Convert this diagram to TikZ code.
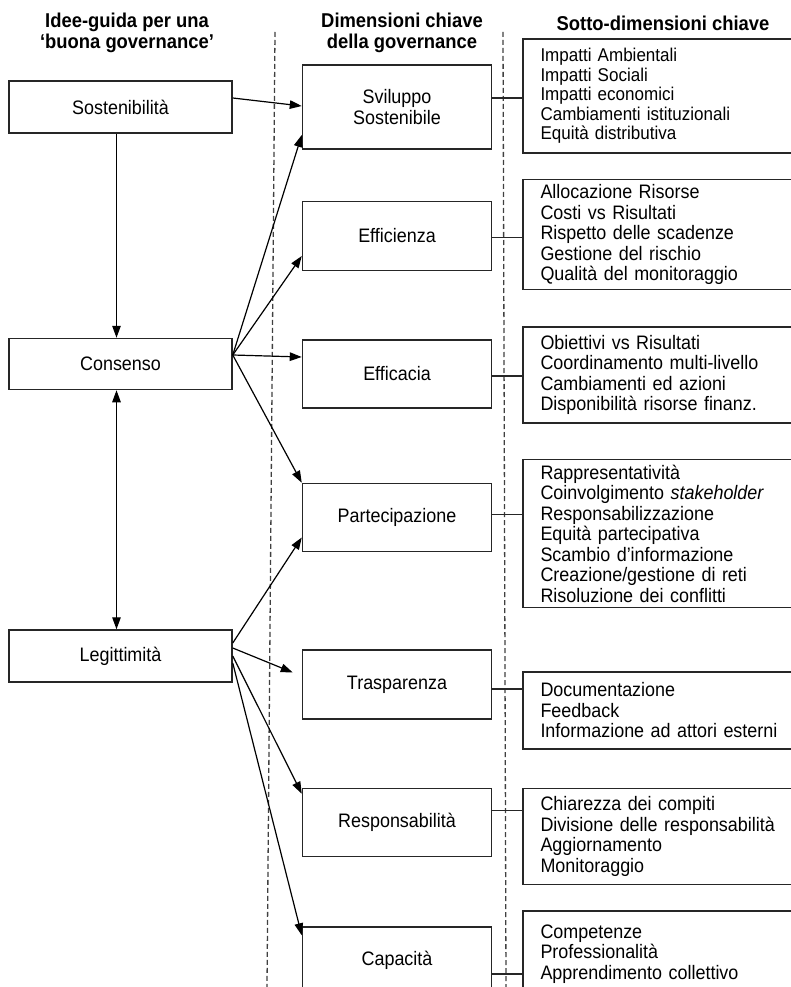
\documentclass[tikz,border=0pt]{standalone}
\usepackage{fontspec}
\setmainfont[FakeStretch=0.92]{Liberation Sans}
\usetikzlibrary{arrows.meta,positioning}

\begin{document}
\begin{tikzpicture}[x = 1pt, y = -1pt]
  \useasboundingbox (0,0) rectangle (790,987);
  \tikzset{GovTip/.tip = {Triangle[length = 12pt, width = 8.5pt]}}
  \tikzset{IdeaStyle/.style = {draw           = black!85,
                               line width     = 1.5pt,
                               minimum width  = 223pt,
                               minimum height = 52pt,
                               inner sep      = 0pt,
                               align          = center,
                               font           = \fontsize{19.5}{20.5}\selectfont}}
  \tikzset{DimStyle/.style  = {IdeaStyle,
                               minimum width  = 189pt}}
  \tikzset{SubStyle/.style  = {draw           = black!85,
                               line width     = 1.5pt,
                               text width     = 252pt,
                               inner xsep     = 17.5pt,
                               inner ysep     = 0pt,
                               align          = left,
                               font           = \fontsize{19.5}{20.5}\selectfont}}
  \tikzset{HeadStyle/.style = {align          = center,
                               font           = \bfseries\fontsize{20}{21}\selectfont}}
  \tikzset{EdgeStyle/.style = {line width     = 1.2pt,
                               -GovTip}}
  \tikzset{LinkStyle/.style = {line width     = 1.5pt,
                               draw           = black!85}}
  \tikzset{SplitStyle/.style = {line width    = 1.3pt,
                                draw          = black!75,
                                dash pattern  = on 5pt off 3pt}}
     \node[HeadStyle](HeadIdea) at (127,33) {Idee-guida per una\\‘buona governance’};
     \node[HeadStyle](HeadDim)  at (402,33) {Dimensioni chiave\\della governance};
     \node[HeadStyle](HeadSub)  at (663,23) {Sotto-dimensioni chiave};

     \draw[SplitStyle] (275,32) -- (267,987);
     \draw[SplitStyle] (503,32) -- (506,987);

     \node[IdeaStyle](Sost) at (120.5,107) {Sostenibilità};
     \node[IdeaStyle,minimum height = 51pt,below= 204pt of Sost](Cons){Consenso};
     \node[IdeaStyle,below= 239pt of Cons](Legit){Legittimità};

     \node[DimStyle,minimum height = 84pt,right= 69pt of Sost](SvS){Sviluppo\\Sostenibile};
     \node[DimStyle,minimum height = 69pt,below= 51pt of SvS](Effz){Efficienza};
     \node[DimStyle,minimum height = 68pt,below= 68pt of Effz](Effc){Efficacia};
     \node[DimStyle,minimum height = 68pt,below= 74pt of Effc](Part){Partecipazione};
     \node[DimStyle,minimum height = 69pt,below= 97pt of Part](Trasp){Trasparenza};
     \node[DimStyle,minimum height = 68pt,below= 68pt of Trasp](Resp){Responsabilità};
     \node[DimStyle,minimum height = 67pt,below= 69pt of Resp](Cap){Capacità};

     \node[SubStyle,minimum height = 114pt,right= 30pt of SvS,yshift = 11pt,
           font = \fontsize{18.5}{19.5}\selectfont](SubSvS)
          {Impatti Ambientali\\Impatti Sociali\\Impatti economici\\Cambiamenti istituzionali\\Equità distributiva};
     \node[SubStyle,minimum height = 110pt,right= 30pt of Effz,yshift = 1.5pt](SubEffz)
          {Allocazione Risorse\\Costi vs Risultati\\Rispetto delle scadenze\\Gestione del rischio\\Qualità del monitoraggio};
     \node[SubStyle,minimum height = 96pt,right= 30pt of Effc,yshift = -1pt](SubEffc)
          {Obiettivi vs Risultati\\Coordinamento multi-livello\\Cambiamenti ed azioni\\Disponibilità risorse finanz.};
     \node[SubStyle,minimum height = 148pt,right= 30pt of Part,yshift = -16pt](SubPart)
          {Rappresentatività\\Coinvolgimento \textit{stakeholder}\\Responsabilizzazione\\Equità partecipativa\\Scambio d’informazione\\Creazione/gestione di reti\\Risoluzione dei conflitti};
     \node[SubStyle,minimum height = 77pt,right= 30pt of Trasp,yshift = -26pt](SubTrasp)
          {Documentazione\\Feedback\\Informazione ad attori esterni};
     \node[SubStyle,minimum height = 96pt,right= 30pt of Resp,yshift = -14pt](SubResp)
          {Chiarezza dei compiti\\Divisione delle responsabilità\\Aggiornamento\\Monitoraggio};
     \node[SubStyle,minimum height = 86pt,right= 30pt of Cap,yshift = 6.5pt](SubCap)
          {Competenze\\Professionalità\\Apprendimento collettivo};

     \draw[EdgeStyle]([yshift = 9pt]Sost.east) -- ([yshift = 1pt]SvS.west);
     \draw[EdgeStyle]([xshift = -4pt]Sost.south) -- ([xshift = -4pt]Cons.north);
     \draw[EdgeStyle,GovTip-GovTip]([xshift = -4pt]Cons.south) -- ([xshift = -4pt]Legit.north);

     \draw[EdgeStyle]([yshift = 9pt]Cons.east) -- ([yshift = -28pt]SvS.west);
     \draw[EdgeStyle]([yshift = 9pt]Cons.east) -- ([yshift = -20pt]Effz.west);
     \draw[EdgeStyle]([yshift = 9pt]Cons.east) -- ([yshift = 17pt]Effc.west);
     \draw[EdgeStyle]([yshift = 9pt]Cons.east) -- (Part.north west);

     \draw[EdgeStyle]([yshift = 13pt]Legit.east) -- ([yshift = -20pt]Part.west);
     \draw[EdgeStyle]([yshift = 8pt]Legit.east) -- ([xshift = -9pt,yshift = 12pt]Trasp.west);
     \draw[EdgeStyle](Legit.east) -- ([yshift = -6pt]Resp.north west);
     \draw[EdgeStyle]([yshift = -7pt]Legit.east) -- ([yshift = -9pt]Cap.north west);

     \draw[LinkStyle]([yshift = 9pt]SvS.east) -- ([yshift = 9pt]SvS.east -| SubSvS.west);
     \draw[LinkStyle]([yshift = -1.5pt]Effz.east) -- ([yshift = -1.5pt]Effz.east -| SubEffz.west);
     \draw[LinkStyle]([yshift = -2pt]Effc.east) -- ([yshift = -2pt]Effc.east -| SubEffc.west);
     \draw[LinkStyle]([yshift = 3pt]Part.east) -- ([yshift = 3pt]Part.east -| SubPart.west);
     \draw[LinkStyle]([yshift = -4.5pt]Trasp.east) -- ([yshift = -4.5pt]Trasp.east -| SubTrasp.west);
     \draw[LinkStyle]([yshift = 12pt]Resp.east) -- ([yshift = 12pt]Resp.east -| SubResp.west);
     \draw[LinkStyle]([yshift = -13.5pt]Cap.east) -- ([yshift = -13.5pt]Cap.east -| SubCap.west);

\end{tikzpicture}
\end{document}
